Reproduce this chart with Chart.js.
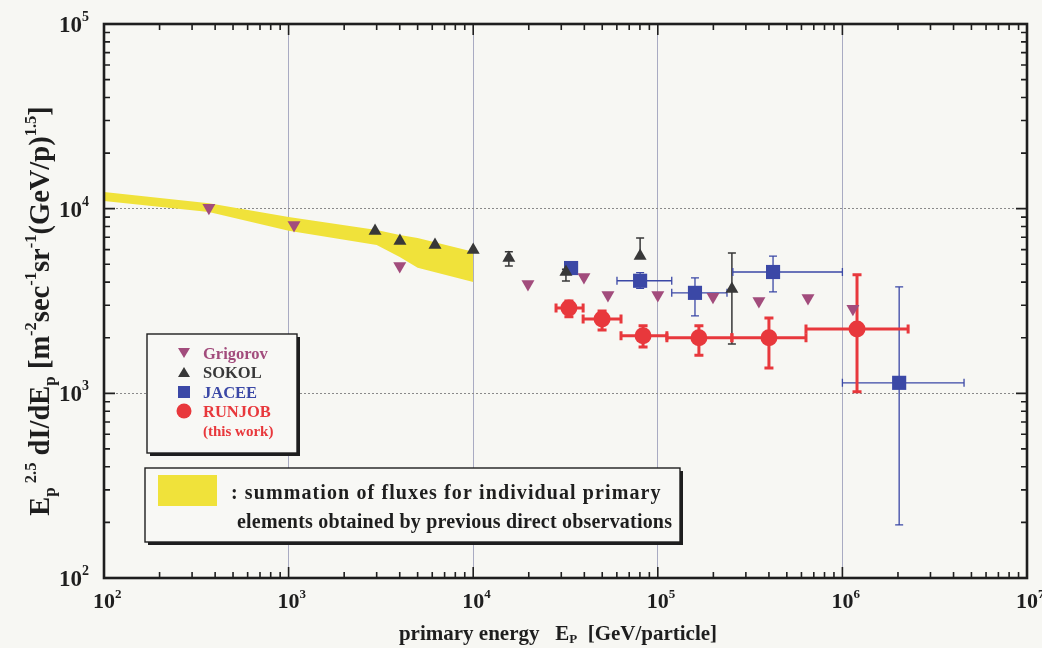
<!DOCTYPE html>
<html lang="en">
  <head>
    <meta charset="UTF-8" />
    <script src="https://cdn.jsdelivr.net/npm/chart.js@4.4.1/dist/chart.umd.min.js"></script>
    <title>Primary energy spectrum</title>
    <style>
      body { margin: 0; background: #f7f7f3; }
    </style>
  </head>
  <body>
    <canvas id="myChart" width="1042" height="648"></canvas>
    <script>
      // axis decades and their labels (10^n)
      const xDecades = [1e2, 1e3, 1e4, 1e5, 1e6, 1e7];
      const xTickExps = ["2", "3", "4", "5", "6", "7"];
      const yDecades = [1e2, 1e3, 1e4, 1e5];
      const yTickExps = ["2", "3", "4", "5"];

      // yellow band: summation of fluxes from direct observations
      const bandE = [100, 370, 1000, 3000, 4000, 5000, 10000];
      const bandHi = [12300, 10700, 9000, 7670, 7200, 6940, 5840];
      const bandLo = [11000, 9600, 7600, 6360, 5480, 4780, 4010];

      // Grigorov
      const grigE = [370, 1070, 4000, 19800, 39800, 53700, 100000, 199000, 353000, 651000, 1140000];
      const grigF = [10100, 8170, 4900, 3910, 4270, 3410, 3410, 3330, 3160, 3280, 2870];

      // SOKOL
      const sokolE = [2940, 4010, 6210, 10000, 15600, 31800, 80200, 252000];
      const sokolF = [7570, 6690, 6360, 5970, 5410, 4540, 5550, 3670];
      const sokolYLo = [null, null, null, null, 4900, 4060, null, 1850];
      const sokolYHi = [null, null, null, null, 5850, 4700, 6940, 5750];

      // JACEE
      const jaceeE = [33900, 80200, 159000, 421000, 2030000];
      const jaceeF = [4770, 4070, 3500, 4540, 1140];
      const jaceeXLo = [null, 60100, 119000, 255000, 1000000];
      const jaceeXHi = [null, 119000, 237000, 1000000, 4560000];
      const jaceeYLo = [null, 3700, 2630, 3540, 194];
      const jaceeYHi = [null, 4500, 4220, 5540, 3770];

      // RUNJOB (this work)
      const runE = [33000, 49900, 83200, 167000, 400000, 1200000];
      const runF = [2900, 2530, 2050, 2000, 2000, 2230];
      const runXLo = [28100, 39400, 63200, 112000, 252000, 635000];
      const runXHi = [39400, 63200, 112000, 252000, 635000, 2270000];
      const runYLo = [2600, 2200, 1780, 1610, 1370, 1020];
      const runYHi = [3160, 2790, 2320, 2320, 2560, 4380];

      const SERIF = "'Liberation Serif', 'DejaVu Serif', serif";
      const cGrig = "#a24c7c";
      const cSokol = "#383838";
      const cJacee = "#3b48a6";
      const cRun = "#e8383c";
      const cBand = "#f0e23a";

      const pts = (xs, ys) => xs.map((x, i) => ({ x: x, y: ys[i] }));

      // draws a row of [text, size, dy] pieces
      function rich(ctx, parts, x, y, align, spacing) {
        ctx.letterSpacing = (spacing || 0) + "px";
        let w = 0;
        parts.forEach((p) => {
          ctx.font = "bold " + p[1] + "px " + SERIF;
          w += ctx.measureText(p[0]).width;
        });
        let cx = align === "center" ? x - w / 2 : align === "right" ? x - w : x;
        ctx.textAlign = "left";
        ctx.textBaseline = "alphabetic";
        parts.forEach((p) => {
          ctx.font = "bold " + p[1] + "px " + SERIF;
          ctx.fillText(p[0], cx, y + p[2]);
          cx += ctx.measureText(p[0]).width;
        });
        ctx.letterSpacing = "0px";
      }

      const errorBars = {
        id: "errorBars",
        beforeDatasetsDraw(chart) {
          const ctx = chart.ctx;
          const xs = chart.scales.x;
          const ys = chart.scales.y;
          chart.data.datasets.forEach((ds) => {
            const eb = ds.errs;
            if (!eb) return;
            ctx.save();
            ctx.strokeStyle = ds.borderColor;
            ctx.lineWidth = eb.width;
            ds.data.forEach((p, i) => {
              const px = xs.getPixelForValue(p.x);
              const py = ys.getPixelForValue(p.y);
              ctx.beginPath();
              if (eb.xLo && eb.xLo[i] != null) {
                const a = xs.getPixelForValue(eb.xLo[i]);
                const b = xs.getPixelForValue(eb.xHi[i]);
                ctx.moveTo(a, py); ctx.lineTo(b, py);
                ctx.moveTo(a, py - eb.cap); ctx.lineTo(a, py + eb.cap);
                ctx.moveTo(b, py - eb.cap); ctx.lineTo(b, py + eb.cap);
              }
              if (eb.yHi && eb.yHi[i] != null) {
                const lo = eb.yLo[i] != null ? eb.yLo[i] : p.y;
                const a = ys.getPixelForValue(lo);
                const b = ys.getPixelForValue(eb.yHi[i]);
                ctx.moveTo(px, a); ctx.lineTo(px, b);
                ctx.moveTo(px - eb.cap, b); ctx.lineTo(px + eb.cap, b);
                if (eb.yLo[i] != null) { ctx.moveTo(px - eb.cap, a); ctx.lineTo(px + eb.cap, a); }
              }
              ctx.stroke();
            });
            ctx.restore();
          });
        },
      };

      const frame = {
        id: "frame",
        afterDraw(chart) {
          const ctx = chart.ctx;
          const a = chart.chartArea;
          const xs = chart.scales.x;
          const ys = chart.scales.y;
          ctx.save();
          ctx.strokeStyle = "#1e1e1e";
          ctx.lineWidth = 1.6;
          ctx.beginPath();
          for (let d = 100; d < 1e7; d *= 10) {
            for (let m = 1; m <= 9; m++) {
              const px = xs.getPixelForValue(d * m);
              const len = m === 1 ? 11 : 6;
              ctx.moveTo(px, a.bottom); ctx.lineTo(px, a.bottom - len);
              ctx.moveTo(px, a.top); ctx.lineTo(px, a.top + len);
            }
          }
          for (let d = 100; d < 1e5; d *= 10) {
            for (let m = 1; m <= 9; m++) {
              const py = ys.getPixelForValue(d * m);
              const len = m === 1 ? 11 : 6;
              ctx.moveTo(a.left, py); ctx.lineTo(a.left + len, py);
              ctx.moveTo(a.right, py); ctx.lineTo(a.right - len, py);
            }
          }
          ctx.stroke();
          ctx.lineWidth = 2.6;
          ctx.strokeRect(a.left, a.top, a.right - a.left, a.bottom - a.top);

          // tick labels: "10" centred on the decade, exponent after it
          ctx.fillStyle = "#1e1e1e";
          xDecades.forEach((v, i) => {
            ctx.font = "bold 22px " + SERIF;
            const w = ctx.measureText("10").width;
            rich(ctx, [["10", 22, 0], [xTickExps[i], 13, -10]], xs.getPixelForValue(v) - w / 2, 608, "left");
          });
          yDecades.forEach((v, i) => {
            rich(ctx, [["10", 23, 0], [yTickExps[i], 14, -11]], 89, ys.getPixelForValue(v) + 8, "right");
          });

          // axis titles
          rich(ctx, [["primary energy   E", 21, 0], ["P", 13, 3], ["  [GeV/particle]", 21, 0]], 558, 640, "center");
          ctx.save();
          ctx.translate(49, 311);
          ctx.rotate(-Math.PI / 2);
          rich(ctx, [
            ["E", 28.5, 0], ["p", 17, 6], [" 2.5", 16.5, -13], [" dI/dE", 28.5, 0], ["p", 17, 6],
            [" [m", 28.5, 0], ["-2", 16.5, -13], ["sec", 28.5, 0], ["-1", 16.5, -13], ["sr", 28.5, 0],
            ["-1", 16.5, -13], ["(GeV/p)", 28.5, 0], ["1.5", 16.5, -13], ["]", 28.5, 0],
          ], 0, 0, "center");
          ctx.restore();

          // legend box for markers
          ctx.fillStyle = "#1e1e1e";
          ctx.fillRect(150, 337, 150, 119);
          ctx.fillStyle = "#f8f8f5";
          ctx.fillRect(147, 334, 150, 119);
          ctx.lineWidth = 1.4;
          ctx.strokeRect(147, 334, 150, 119);
          const rows = [
            ["Grigorov", cGrig, "down", 353],
            ["SOKOL", cSokol, "up", 372],
            ["JACEE", cJacee, "sq", 392],
            ["RUNJOB", cRun, "dot", 411],
          ];
          rows.forEach((r) => {
            const mx = 184, my = r[3];
            ctx.fillStyle = r[1];
            ctx.beginPath();
            if (r[2] === "down") { ctx.moveTo(mx - 6, my - 5); ctx.lineTo(mx + 6, my - 5); ctx.lineTo(mx, my + 5); }
            else if (r[2] === "up") { ctx.moveTo(mx - 6, my + 5); ctx.lineTo(mx + 6, my + 5); ctx.lineTo(mx, my - 5); }
            else if (r[2] === "sq") { ctx.rect(mx - 6, my - 6, 12, 12); }
            else { ctx.arc(mx, my, 7.5, 0, Math.PI * 2); }
            ctx.fill();
            rich(ctx, [[r[0], 16.5, 0]], 203, my + 6, "left");
          });
          ctx.fillStyle = cRun;
          rich(ctx, [["(this work)", 15, 0]], 203, 436, "left");

          // legend box for the band
          ctx.fillStyle = "#1e1e1e";
          ctx.fillRect(148, 471, 535, 74);
          ctx.fillStyle = "#f8f8f5";
          ctx.fillRect(145, 468, 535, 74);
          ctx.strokeRect(145, 468, 535, 74);
          ctx.fillStyle = cBand;
          ctx.fillRect(158, 475, 59, 31);
          ctx.fillStyle = "#1e1e1e";
          rich(ctx, [[": summation of fluxes for individual primary", 20, 0]], 231, 499, "left", 1.1);
          rich(ctx, [["elements obtained by previous direct observations", 20, 0]], 237, 528, "left", 0.2);
          ctx.restore();
        },
      };

      const ctx = document.getElementById("myChart").getContext("2d");
      const myChart = new Chart(ctx, {
        type: "scatter",
        data: {
          datasets: [
            { type: "line", order: 10, data: pts(bandE, bandHi), borderWidth: 0, pointRadius: 0, borderColor: cBand, backgroundColor: cBand, fill: false },
            { type: "line", order: 10, data: pts(bandE, bandLo), borderWidth: 0, pointRadius: 0, borderColor: cBand, backgroundColor: cBand, fill: "-1" },
            {
              label: "Grigorov", data: pts(grigE, grigF), pointStyle: "triangle", rotation: 180,
              pointRadius: 7.5, backgroundColor: cGrig, borderColor: cGrig, borderWidth: 0,
            },
            {
              label: "SOKOL", data: pts(sokolE, sokolF), pointStyle: "triangle",
              pointRadius: 7.5, backgroundColor: cSokol, borderColor: cSokol, borderWidth: 0,
              errs: { yLo: sokolYLo, yHi: sokolYHi, width: 1.5, cap: 4 },
            },
            {
              label: "JACEE", data: pts(jaceeE, jaceeF), pointStyle: "rect",
              pointRadius: 10, backgroundColor: cJacee, borderColor: cJacee, borderWidth: 0,
              errs: { xLo: jaceeXLo, xHi: jaceeXHi, yLo: jaceeYLo, yHi: jaceeYHi, width: 1.3, cap: 4 },
            },
            {
              label: "RUNJOB", data: pts(runE, runF), pointStyle: "circle",
              pointRadius: 8.5, backgroundColor: cRun, borderColor: cRun, borderWidth: 0,
              errs: { xLo: runXLo, xHi: runXHi, yLo: runYLo, yHi: runYHi, width: 3, cap: 4.5 },
            },
          ],
        },
        options: {
          responsive: false,
          animation: false,
          layout: { padding: { left: 104, right: 15, top: 24, bottom: 70 } },
          plugins: { legend: { display: false }, tooltip: { enabled: false } },
          scales: {
            x: {
              type: "logarithmic", min: 100, max: 1e7,
              afterBuildTicks: (s) => { s.ticks = xDecades.map((v) => ({ value: v })); },
              ticks: { display: false },
              grid: { color: "#a9abc2", lineWidth: 1, drawTicks: false },
              border: { display: false },
            },
            y: {
              type: "logarithmic", min: 100, max: 1e5,
              afterBuildTicks: (s) => { s.ticks = yDecades.map((v) => ({ value: v })); },
              ticks: { display: false },
              grid: { color: "#8a8a8a", lineWidth: 1, drawTicks: false },
              border: { display: false, dash: [2, 2] },
            },
          },
        },
        plugins: [errorBars, frame],
      });
    </script>
  </body>
</html>
